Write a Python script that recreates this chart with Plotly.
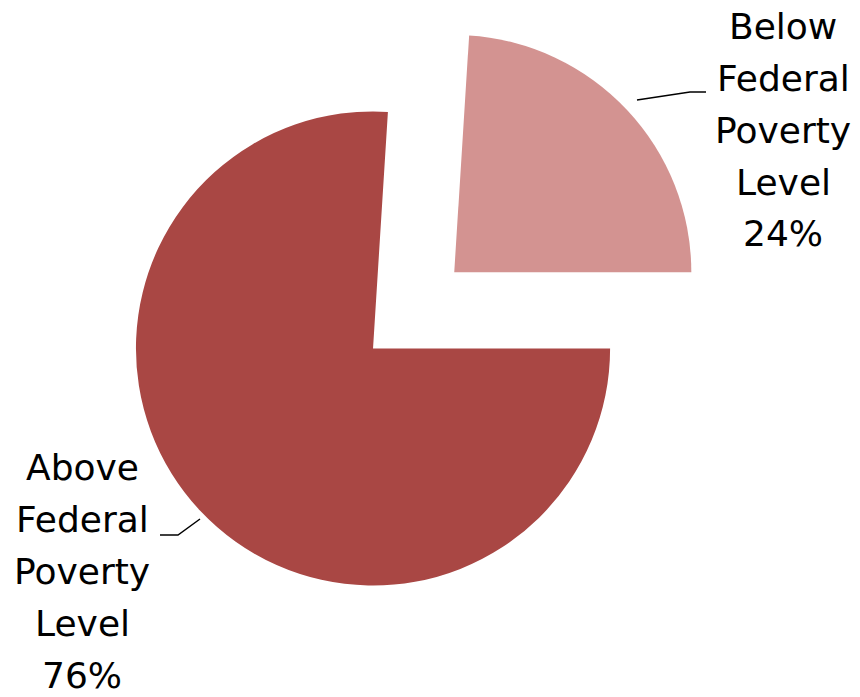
import plotly.graph_objects as go

labels = ["Below Federal Poverty Level", "Above Federal Poverty Level"]
values = [24, 76]
colors = ["#D39391", "#A94744"]
pulls = [0.47, 0]

W, H = 860, 697
FONT = "DejaVu Sans"

# first slice ends exactly at 3 o'clock
total = sum(values)
rotation = 90 - 360 * values[0] / total

fig = go.Figure(
    data=[
        go.Pie(labels=labels, values=values, sort=False, direction="clockwise",
               rotation=rotation, pull=pulls,
               marker=dict(colors=colors, line=dict(width=0)),
               textinfo="none", hoverinfo="label+percent",
               domain=dict(x=[0.0285, 0.839], y=[0, 1]))
    ]
)

# stacked labels, one word per line (centre x, first line centre y in px)
label_pos = [(783, 26), (82, 467)]
line_gap = 52
annotations = []
for lab, val, (cx, cy) in zip(labels, values, label_pos):
    pct = round(100 * val / total)
    lines = lab.split() + [f"{pct}%"]
    for i, ln in enumerate(lines):
        annotations.append(dict(
            text=ln, x=cx / W, y=1 - (cy + i * line_gap) / H,
            xref="paper", yref="paper", showarrow=False,
            xanchor="center", yanchor="middle",
            font=dict(family=FONT, size=36, color="#000000")))

# leader lines
shapes = [
    dict(type="path", xref="paper", yref="paper",
         path=f"M {637/W} {1-100/H} L {690/W} {1-92/H} L {706/W} {1-92/H}",
         line=dict(color="#000000", width=1.5)),
    dict(type="path", xref="paper", yref="paper",
         path=f"M {200/W} {1-519/H} L {178/W} {1-535/H} L {160/W} {1-535/H}",
         line=dict(color="#000000", width=1.5)),
]

fig.update_layout(
    width=W, height=H,
    margin=dict(l=0, r=0, t=0, b=0),
    showlegend=False,
    paper_bgcolor="white",
    annotations=annotations,
    shapes=shapes,
)

# drop the default body margin so the figure fills the window
fig.write_html("out.html", config={"displayModeBar": False},
               post_script="document.body.style.margin='0';")
